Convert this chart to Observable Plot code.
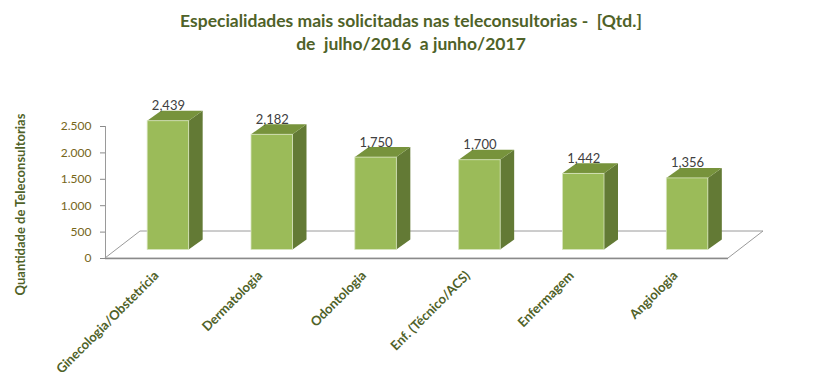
<!DOCTYPE html>
<html>
<head>
<meta charset="utf-8">
<script src="https://cdn.jsdelivr.net/npm/d3@7"></script>
<script src="https://cdn.jsdelivr.net/npm/@observablehq/plot@0.6"></script>
<style>
  html, body { margin: 0; padding: 0; background: #fff; }
  #wrap { width: 822px; height: 378px; overflow: hidden; }
  #title { height: 60px; box-sizing: border-box; padding-top: 9px; text-align: center;
           font-family: Lato, "Open Sans", sans-serif; font-weight: bold; font-size: 17.5px;
           line-height: 23px; color: #4F6228; white-space: pre; }
  svg { display: block; overflow: visible; }
</style>
</head>
<body>
<div id="wrap">
  <div id="title"></div>
  <div id="chart"></div>
</div>
<script>
const titleLines = ["Especialidades mais solicitadas nas teleconsultorias -  [Qtd.]", "de  julho/2016  a junho/2017"];
const yAxisLabel = "Quantidade de Teleconsultorias";
const categories = ["Ginecologia/Obstetrícia", "Dermatologia", "Odontologia", "Enf. (Técnico/ACS)", "Enfermagem", "Angiologia"];
const values = [2439, 2182, 1750, 1700, 1442, 1356];
const yTicks = [0, 500, 1000, 1500, 2000, 2500];

document.getElementById("title").textContent = titleLines.join("\n");

const W = 822, H = 318;
const mL = 105, mR = 94, mT = 66, mB = 120;
const xMax = categories.length, yMax = 2500;
const ux = px => px * xMax / (W - mL - mR);
const uy = px => px * yMax / (H - mT - mB);

// 3D geometry (pixel offsets converted to data units)
const floorDX = ux(35), floorDY = uy(27);
const barDX = ux(11), barDY = uy(8.5);
const depthDX = ux(14), depthDY = uy(10);
const halfW = ux(20.75);

const bars = categories.map((c, i) => ({
  c, v: values[i],
  xl: i + 0.5 - halfW + barDX, xr: i + 0.5 + halfW + barDX,
  b: barDY, t: barDY + values[i]
}));
const floor = [
  {y: 0, x1: 0, x2: xMax},
  {y: floorDY, x1: floorDX, x2: xMax + floorDX}
];
const sides = bars.flatMap(d => [
  {c: d.c, x: d.xr, y1: d.b, y2: d.t},
  {c: d.c, x: d.xr + depthDX, y1: d.b + depthDY, y2: d.t + depthDY}
]);
const tops = bars.flatMap(d => [
  {c: d.c, y: d.t, x1: d.xl, x2: d.xr},
  {c: d.c, y: d.t + depthDY, x1: d.xl + depthDX, x2: d.xr + depthDX}
]);

const font = "Lato, 'Open Sans', sans-serif";
const chart = Plot.plot({
  width: W, height: H,
  marginLeft: mL, marginRight: mR, marginTop: mT, marginBottom: mB,
  style: {fontFamily: font, background: "transparent", overflow: "visible"},
  x: {type: "linear", domain: [0, xMax], axis: null},
  y: {type: "linear", domain: [0, yMax], axis: null},
  marks: [
    Plot.areaX(floor, {y: "y", x1: "x1", x2: "x2", fill: "white", stroke: "#9a9a9a", strokeWidth: 1}),
    Plot.ruleY([0], {stroke: "#8a8a8a", strokeWidth: 1.5}),
    Plot.ruleX([0], {stroke: "#9a9a9a", strokeWidth: 1}),
    Plot.axisY(yTicks, {
      tickSize: 5, tickPadding: 9, stroke: "#8a8a8a",
      tickFormat: d => d3.format(",")(d).replace(/,/g, "."),
      fill: "#76661a", fontSize: 12, label: null
    }),
    Plot.areaY(sides, {x: "x", y1: "y1", y2: "y2", z: "c", fill: "#637A35"}),
    Plot.areaX(tops, {y: "y", x1: "x1", x2: "x2", z: "c", fill: "#77933C"}),
    Plot.rect(bars, {x1: "xl", x2: "xr", y1: "b", y2: "t", fill: "#9BBB59", stroke: "#d7e4bd", strokeWidth: 0.8}),
    Plot.text(bars, {
      x: d => (d.xl + d.xr) / 2, y: d => d.t + depthDY,
      text: d => d3.format(",")(d.v), dy: -1, lineAnchor: "bottom",
      fill: "#404040", fontSize: 13
    }),
    Plot.text(categories, {
      x: (d, i) => i + 0.5, y: 0, text: d => d,
      rotate: -45, textAnchor: "end", dx: -1, dy: 15,
      fontWeight: "bold", fill: "#4F6228", fontSize: 13
    }),
    Plot.text([yAxisLabel], {
      x: ux(20 - mL), y: uy(H - mB - (204 - 60)), text: d => d, rotate: -90,
      fontWeight: "bold", fill: "#4F6228", fontSize: 13
    })
  ]
});
document.getElementById("chart").appendChild(chart);
</script>
</body>
</html>
